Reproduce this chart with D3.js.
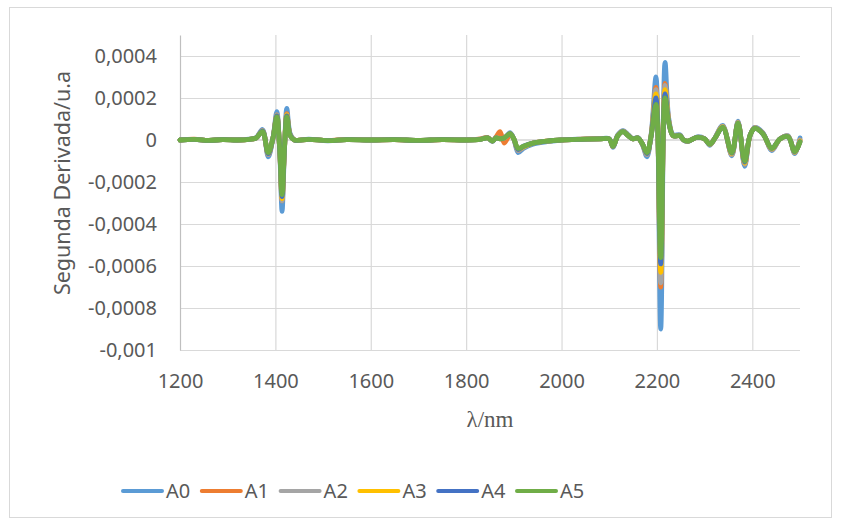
<!DOCTYPE html>
<html>
<head>
<meta charset="utf-8">
<script src="https://cdn.jsdelivr.net/npm/d3@7"></script>
<style>
    body { margin: 0; background: #ffffff; }
    svg { display: block; }
    text { font-family: "Noto Sans", "Open Sans", sans-serif; fill: #595959; }
</style>
</head>
<body>
<svg id="chart"></svg>
<script>
const CHART_WIDTH = 841;
const CHART_HEIGHT = 525;

const PADDING = {
    top: 35,
    bottom: 175,
    start: 180,
    end: 41
};

// longitudes de onda (nm)
const wavelengths = [
    1200, 1230, 1260, 1290, 1320, 1345, 1360, 1373, 1385, 1395,
    1403, 1409, 1414, 1419, 1424, 1431, 1440, 1470, 1510, 1550,
    1600, 1650, 1700, 1750, 1800, 1830, 1845, 1855, 1863, 1871,
    1880, 1892, 1900, 1909, 1920, 1940, 1970, 2000, 2040, 2080,
    2100, 2108, 2118, 2129, 2140, 2150, 2160, 2170, 2179, 2188,
    2198, 2208, 2217, 2225, 2234, 2248, 2256, 2265, 2284, 2300,
    2311, 2322, 2338, 2357, 2370, 2384, 2395, 2405, 2422, 2441,
    2458, 2475, 2489, 2500
];

const a0 = [
    0, 0.000003, -0.000003, 0.000003, 0, 0.000004, 0.000012, 0.00005, -0.00008, 0.00001,
    0.000135, -0.00005, -0.00034, -0.00005, 0.00015, 0.00003, 0, 0.000004, -0.000004, 0.000003,
    0, 0.000003, -0.000003, 0.000003, 0, 0.000004, 0.000012, -0.000008, 0.000015, 0.00001,
    0.000005, 0.000035, 0.000005, -0.00006, -0.00004, -0.00002, -0.000008, 0, 0.000004, 0.000006,
    0.000006, -0.000035, 0.000025, 0.000045, 0.000025, 0.000005, 0.000012, -0.000025, -0.00008, 0.00003,
    0.0003, -0.0009, 0.00037, 0.0001, 0.000025, 0.000025, 0, -0.000008, 0.000015, 0.000006,
    -0.000025, 0.000012, 0.00007, -0.000075, 0.00009, -0.000125, 0.00002, 0.00006, 0.000035, -0.00005,
    0.000005, 0.00002, -0.000065, 0.00001
];

const a1 = [
    0, 0.000004, -0.000002, 0.000003, 0, 0.000003, 0.00001, 0.000045, -0.00007, 0.00001,
    0.00012, -0.000045, -0.00029, -0.000045, 0.000125, 0.000025, 0, 0.000003, -0.000003, 0.000003,
    0, 0.000002, -0.000003, 0.000002, 0, 0.000005, 0.000012, -0.000005, 0.000015, 0.00004,
    -0.000015, 0.000025, 0.000005, -0.00005, -0.000035, -0.000015, -0.000005, 0, 0.000004, 0.000006,
    0.000005, -0.000032, 0.000022, 0.000042, 0.000022, 0.000005, 0.00001, -0.000022, -0.00007, 0.000025,
    0.00025, -0.0007, 0.00027, 0.00009, 0.00002, 0.000022, 0, -0.000006, 0.000013, 0.000005,
    -0.000022, 0.00001, 0.000065, -0.00007, 0.000085, -0.000115, 0.00002, 0.000058, 0.000032, -0.000045,
    0.000005, 0.000018, -0.00006, 0
];

const a2 = [
    0, 0.000003, -0.000002, 0.000002, 0, 0.000003, 0.00001, 0.000045, -0.00007, 0.00001,
    0.00012, -0.000045, -0.00029, -0.000045, 0.00012, 0.000025, 0, 0.000003, -0.000003, 0.000002,
    0, 0.000002, -0.000002, 0.000002, 0, 0.000003, 0.00001, -0.000005, 0.00001, 0.000008,
    0.00001, 0.00003, 0.000005, -0.00005, -0.000035, -0.000015, -0.000005, 0, 0.000003, 0.000005,
    0.000005, -0.000032, 0.000022, 0.000042, 0.000022, 0.000005, 0.00001, -0.000022, -0.00007, 0.000025,
    0.00024, -0.00068, 0.00026, 0.00009, 0.00002, 0.000022, 0, -0.000006, 0.000013, 0.000005,
    -0.000022, 0.00001, 0.000065, -0.00007, 0.000085, -0.000115, 0.00002, 0.000058, 0.000032, -0.000045,
    0.000005, 0.000018, -0.00006, 0
];

const a3 = [
    0, 0.000003, -0.000002, 0.000002, 0, 0.000003, 0.00001, 0.000042, -0.000065, 0.00001,
    0.000115, -0.000042, -0.00028, -0.000042, 0.00012, 0.000022, 0, 0.000003, -0.000003, 0.000002,
    0, 0.000002, -0.000002, 0.000002, 0, 0.000003, 0.00001, -0.000005, 0.00001, 0.000006,
    0.00001, 0.00003, 0.000005, -0.000045, -0.000032, -0.000015, -0.000005, 0, 0.000003, 0.000005,
    0.000005, -0.00003, 0.00002, 0.00004, 0.00002, 0.000005, 0.00001, -0.00002, -0.000065, 0.000022,
    0.00022, -0.00063, 0.00024, 0.000085, 0.00002, 0.00002, 0, -0.000005, 0.000012, 0.000005,
    -0.00002, 0.00001, 0.000062, -0.000065, 0.000082, -0.00011, 0.00002, 0.000056, 0.00003, -0.000042,
    0.000005, 0.000016, -0.000058, -0.000005
];

const a4 = [
    0, 0.000003, -0.000002, 0.000002, 0, 0.000003, 0.00001, 0.000042, -0.000065, 0.00001,
    0.000115, -0.000042, -0.00027, -0.000042, 0.000115, 0.000022, 0, 0.000003, -0.000003, 0.000002,
    0, 0.000002, -0.000002, 0.000002, 0, 0.000003, 0.00001, -0.000005, 0.00001, 0.000005,
    0.00001, 0.00003, 0.000005, -0.000045, -0.00003, -0.000015, -0.000005, 0, 0.000003, 0.000005,
    0.000005, -0.00003, 0.00002, 0.00004, 0.00002, 0.000005, 0.00001, -0.00002, -0.000065, 0.00002,
    0.0002, -0.00059, 0.00022, 0.000082, 0.00002, 0.00002, 0, -0.000005, 0.000012, 0.000005,
    -0.00002, 0.00001, 0.00006, -0.000062, 0.00008, -0.000105, 0.00002, 0.000055, 0.00003, -0.00004,
    0.000005, 0.000015, -0.000056, -0.000008
];

const a5 = [
    0, 0.000003, -0.000002, 0.000002, 0, 0.000003, 0.00001, 0.00004, -0.00006, 0.00001,
    0.00011, -0.00004, -0.00026, -0.00004, 0.00011, 0.00002, 0, 0.000003, -0.000003, 0.000002,
    0, 0.000002, -0.000002, 0.000002, 0, 0.000003, 0.00001, -0.000005, 0.00001, 0.000005,
    0.00001, 0.00003, 0.000005, -0.00004, -0.00003, -0.000015, -0.000005, 0, 0.000003, 0.000005,
    0.000005, -0.00003, 0.00002, 0.00004, 0.00002, 0.000005, 0.00001, -0.00002, -0.00006, 0.00002,
    0.00017, -0.00056, 0.0002, 0.00008, 0.00002, 0.00002, 0, -0.000005, 0.000012, 0.000005,
    -0.00002, 0.00001, 0.00006, -0.00006, 0.00008, -0.0001, 0.00002, 0.000055, 0.00003, -0.00004,
    0.000005, 0.000015, -0.000055, -0.00001
];

const seriesNames = ["A0", "A1", "A2", "A3", "A4", "A5"];
const seriesValues = [a0, a1, a2, a3, a4, a5];
const seriesColors = ["#5B9BD5", "#ED7D31", "#A5A5A5", "#FFC000", "#4472C4", "#70AD47"];

const xTicks = [1200, 1400, 1600, 1800, 2000, 2200, 2400];
const yTicks = [-0.001, -0.0008, -0.0006, -0.0004, -0.0002, 0, 0.0002, 0.0004];

const xDomain = [1200, 2500];
const yDomain = [-0.001, 0.0005];

function formatComma(value) {
    return String(+value.toFixed(4)).replace(".", ",");
}

function renderChart() {
    const chart = d3.select("#chart")
        .attr("width", CHART_WIDTH)
        .attr("height", CHART_HEIGHT);

    chart.append("rect")
        .attr("x", 9.5)
        .attr("y", 7.5)
        .attr("width", 822)
        .attr("height", 510)
        .attr("fill", "#ffffff")
        .attr("stroke", "#D9D9D9")
        .attr("stroke-width", 1);

    const xScale = d3.scaleLinear()
        .domain(xDomain)
        .range([PADDING.start, CHART_WIDTH - PADDING.end]);

    const yScale = d3.scaleLinear()
        .domain(yDomain)
        .range([CHART_HEIGHT - PADDING.bottom, PADDING.top]);

    // lineas de cuadricula
    chart.append("g")
        .classed("y-grid", true)
        .call(d3.axisLeft(yScale)
            .tickValues(yTicks.filter(v => v !== 0))
            .tickSize(-(xScale.range()[1] - xScale.range()[0]))
            .tickFormat(""))
        .attr("transform", `translate(${PADDING.start}, 0)`)
        .call(g => g.select(".domain").remove())
        .call(g => g.selectAll("line").attr("stroke", "#D9D9D9").attr("stroke-width", 1.2));

    chart.append("g")
        .classed("x-grid", true)
        .call(d3.axisBottom(xScale)
            .tickValues(xTicks.filter(v => v !== xDomain[0]))
            .tickSize(-(yScale.range()[0] - yScale.range()[1]))
            .tickFormat(""))
        .attr("transform", `translate(0, ${yScale.range()[0]})`)
        .call(g => g.select(".domain").remove())
        .call(g => g.selectAll("line").attr("stroke", "#D9D9D9").attr("stroke-width", 1.2));

    // eje x (linea en cero, etiquetas abajo)
    chart.append("line")
        .attr("x1", xScale.range()[0])
        .attr("x2", xScale.range()[1])
        .attr("y1", yScale(0))
        .attr("y2", yScale(0))
        .attr("stroke", "#BFBFBF")
        .attr("stroke-width", 1.2);

    chart.append("g")
        .classed("x-axis", true)
        .attr("transform", `translate(0, ${yScale.range()[0]})`)
        .call(d3.axisBottom(xScale).tickValues(xTicks).tickSize(0).tickPadding(24).tickFormat(d3.format("d")))
        .call(g => g.select(".domain").remove())
        .call(g => g.selectAll("text").attr("font-size", "20px").attr("fill", "#595959"));

    // eje y
    chart.append("g")
        .classed("y-axis", true)
        .attr("transform", `translate(${PADDING.start}, 0)`)
        .call(d3.axisLeft(yScale).tickValues(yTicks).tickSize(0).tickPadding(23).tickFormat(formatComma))
        .call(g => g.select(".domain").attr("stroke", "#BFBFBF").attr("stroke-width", 1.2))
        .call(g => g.selectAll("text").attr("font-size", "20px").attr("fill", "#595959"));

    chart.append("text")
        .attr("transform", "rotate(-90)")
        .attr("x", -183)
        .attr("y", 70)
        .style("text-anchor", "middle")
        .attr("font-size", "21.5px")
        .text("Segunda Derivada/u.a");

    chart.append("text")
        .attr("x", 490)
        .attr("y", 427)
        .style("text-anchor", "middle")
        .style("font-family", "'Liberation Serif', 'DejaVu Serif', serif")
        .attr("font-size", "23px")
        .text("λ/nm");

    const line = d3.line()
        .x((d, i) => xScale(wavelengths[i]))
        .y(d => yScale(d))
        .curve(d3.curveCatmullRom.alpha(0.5));

    chart.append("g")
        .classed("series", true)
        .selectAll("path")
        .data(seriesValues)
        .join("path")
            .attr("d", d => line(d))
            .attr("fill", "none")
            .attr("stroke", (d, i) => seriesColors[i])
            .attr("stroke-width", 4.8)
            .attr("stroke-linejoin", "round")
            .attr("stroke-linecap", "round");

    // leyenda
    const legend = chart.append("g")
        .classed("legend", true)
        .attr("transform", "translate(123, 491)");

    const legendItems = legend.selectAll("g")
        .data(seriesNames)
        .join("g")
            .attr("transform", (d, i) => `translate(${i * 78.8}, 0)`);

    legendItems.append("line")
        .attr("x1", 0)
        .attr("x2", 39)
        .attr("stroke", (d, i) => seriesColors[i])
        .attr("stroke-width", 4)
        .attr("stroke-linecap", "round");

    legendItems.append("text")
        .attr("x", 43)
        .attr("y", 7)
        .attr("font-size", "20px")
        .text(d => d);
}

renderChart();
</script>
</body>
</html>
